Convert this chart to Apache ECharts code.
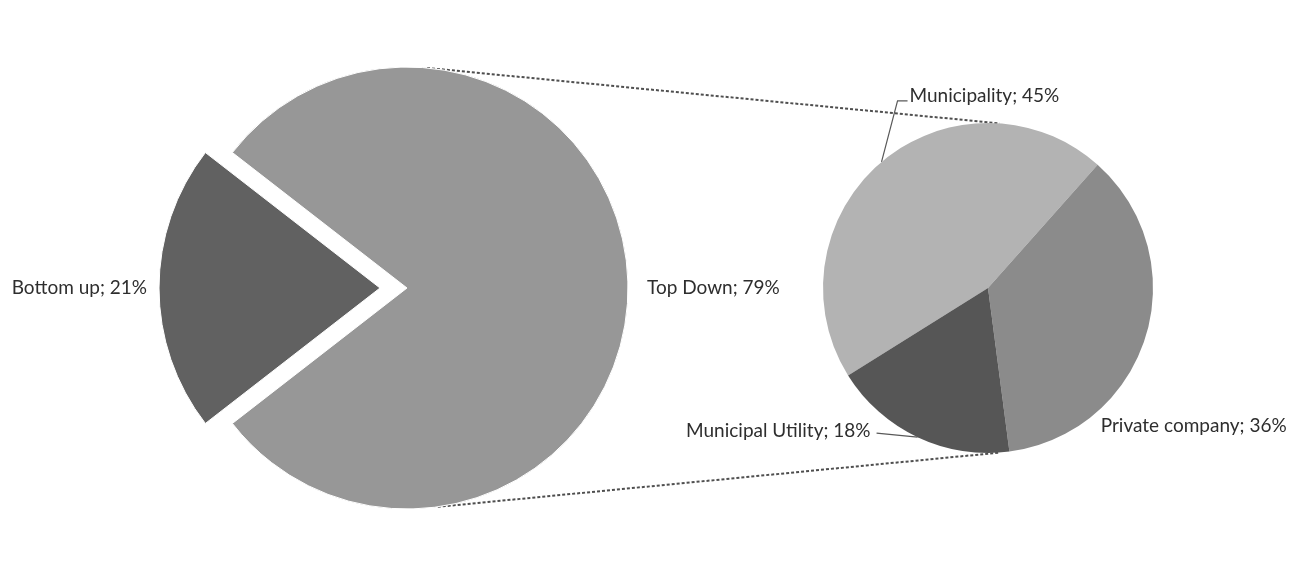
<!DOCTYPE html>
<html>
<head>
<meta charset="utf-8">
<script src="https://cdn.jsdelivr.net/npm/echarts@6/dist/echarts.min.js"></script>
<style>
  html, body { margin: 0; padding: 0; background: #ffffff; }
  #chart { width: 1290px; height: 568px; }
</style>
</head>
<body>
<div id="chart"></div>
<script>
// Main split of the total
const mainCategories = ['Top Down', 'Bottom up'];
const mainValues = [79, 21];
const mainColors = ['#979797', '#616161'];

// Breakdown of the "Top Down" share
const subCategories = ['Municipality', 'Private company', 'Municipal Utility'];
const subValues = [45, 36, 18];
const subColors = ['#b3b3b3', '#8b8b8b', '#565656'];

// Geometry of the two pies (pixels)
const MAIN_C = [407, 288], MAIN_R = 221, EXPLODE = 27;
const SUB_C = [988, 288], SUB_R = 165, SUB_START = 212;

const TEXT_COLOR = '#2e2e2e';
const FONT = 'Lato';
const FONT_SIZE = 19;

// Center the "Bottom up" slice on the left (180 deg)
const mainTotal = mainValues.reduce((a, b) => a + b, 0);
const mainStart = 180 - (mainValues[1] / mainTotal) * 360 / 2;

function rad(d) { return d * Math.PI / 180; }
function pointOn(c, r, deg) {
  return [c[0] + r * Math.cos(rad(deg)), c[1] - r * Math.sin(rad(deg))];
}
function subMidAngle(i) {
  const total = subValues.reduce((a, b) => a + b, 0);
  let before = 0;
  for (let k = 0; k < i; k++) before += subValues[k];
  return SUB_START - (before + subValues[i] / 2) / total * 360;
}

// Label placement for the breakdown pie, relative to each slice's outer edge
const subLabelPlacement = [
  { dx: 28, dy: -66, align: 'left', line: [[16, -61], [26, -61]] },
  { dx: -45, dy: 89, align: 'left', line: null },
  { dx: -47, dy: -6, align: 'right', line: [[-41, -4]] }
];

const chart = echarts.init(document.getElementById('chart'), null, { renderer: 'canvas' });

// Dotted connectors between the two pies
const connA1 = pointOn(MAIN_C, MAIN_R, 84.8), connB1 = pointOn(SUB_C, SUB_R, 86);
const connA2 = pointOn(MAIN_C, MAIN_R, -82), connB2 = pointOn(SUB_C, SUB_R, -86);
const connStyle = { stroke: '#4f4f4f', lineWidth: 2, lineDash: [3, 2] };

const labelBase = { color: TEXT_COLOR, fontFamily: FONT, fontSize: FONT_SIZE };

chart.setOption({
  backgroundColor: '#ffffff',
  animation: false,
  graphic: [
    { type: 'line', z: 0, shape: { x1: connA1[0], y1: connA1[1], x2: connB1[0], y2: connB1[1] }, style: connStyle },
    { type: 'line', z: 0, shape: { x1: connA2[0], y1: connA2[1], x2: connB2[0], y2: connB2[1] }, style: connStyle }
  ],
  series: [
    {
      type: 'pie',
      center: MAIN_C,
      radius: [0, MAIN_R],
      startAngle: mainStart,
      clockwise: true,
      avoidLabelOverlap: false,
      selectedMode: 'single',
      selectedOffset: EXPLODE,
      emphasis: { disabled: true },
      itemStyle: { borderColor: '#ffffff', borderWidth: 1 },
      label: Object.assign({ show: true, position: 'outside', formatter: '{b}; {c}%' }, labelBase),
      labelLine: { show: false },
      data: mainCategories.map((name, i) => ({
        name: name,
        value: mainValues[i],
        selected: i === 1,
        itemStyle: { color: mainColors[i] },
        labelLine: i === 0 ? { show: false, length: 14, length2: 0 } : { show: false, length: 7, length2: 0 }
      }))
    },
    {
      type: 'pie',
      center: SUB_C,
      radius: [0, SUB_R],
      startAngle: SUB_START,
      clockwise: true,
      avoidLabelOverlap: false,
      emphasis: { disabled: true },
      itemStyle: { borderColor: '#ffffff', borderWidth: 0 },
      label: Object.assign({ show: true, position: 'outside', formatter: '{b}; {c}%' }, labelBase),
      labelLine: { show: true, length: 10, length2: 10, lineStyle: { color: '#595959', width: 1.2 } },
      labelLayout: function (params) {
        const i = params.dataIndex;
        const p = subLabelPlacement[i];
        const e = pointOn(SUB_C, SUB_R, subMidAngle(i));
        const out = {
          x: e[0] + p.dx,
          y: e[1] + p.dy,
          align: p.align,
          verticalAlign: 'middle'
        };
        if (p.line) {
          out.labelLinePoints = [e].concat(p.line.map(d => [e[0] + d[0], e[1] + d[1]]));
        }
        return out;
      },
      data: subCategories.map((name, i) => ({
        name: name,
        value: subValues[i],
        itemStyle: { color: subColors[i] },
        labelLine: { show: subLabelPlacement[i].line !== null }
      }))
    }
  ]
});
</script>
</body>
</html>
